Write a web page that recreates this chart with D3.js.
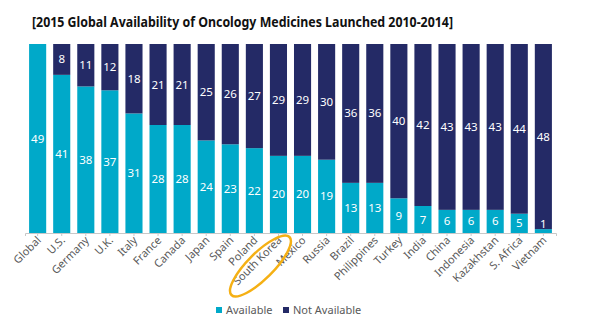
<!DOCTYPE html>
<html>
<head>
<meta charset="utf-8">
<script src="https://cdn.jsdelivr.net/npm/d3@7"></script>
<style>
  body { margin: 0; background: #fff; }
  svg { display: block; }
</style>
</head>
<body>
<div id="chart"></div>
<script>
// countries / markets
var laender = ["Global", "U.S.", "Germany", "U.K.", "Italy", "France", "Canada", "Japan", "Spain", "Poland",
  "South Korea", "Mexico", "Russia", "Brazil", "Philippines", "Turkey", "India", "China", "Indonesia",
  "Kazakhstan", "S. Africa", "Vietnam"];
var verfuegbar = [49, 41, 38, 37, 31, 28, 28, 24, 23, 22, 20, 20, 19, 13, 13, 9, 7, 6, 6, 6, 5, 1];
var nichtVerfuegbar = [0, 8, 11, 12, 18, 21, 21, 25, 26, 27, 29, 29, 30, 36, 36, 40, 42, 43, 43, 43, 44, 48];
var serien = ["Available", "Not Available"];

var width = 600, height = 327;
var farben = { "Available": "#00a9c9", "Not Available": "#242a66" };

var svg = d3.select("#chart").append("svg")
  .attr("width", width)
  .attr("height", height);

// title
svg.append("text")
  .attr("x", 32)
  .attr("y", 27)
  .attr("font-family", "Noto Sans, sans-serif")
  .attr("font-weight", "bold")
  .attr("font-size", 13.5)
  .attr("textLength", 421)
  .attr("lengthAdjust", "spacingAndGlyphs")
  .attr("fill", "#111")
  .text("[2015 Global Availability of Oncology Medicines Launched 2010-2014]");

var x = d3.scaleBand()
  .domain(laender)
  .range([25, 556])
  .paddingInner(0.29)
  .paddingOuter(0.17);

var y = d3.scaleLinear()
  .domain([0, 49])
  .range([233, 44]);

var daten = laender.map(function (l, i) {
  return { land: l, "Available": verfuegbar[i], "Not Available": nichtVerfuegbar[i] };
});
var stapel = d3.stack().keys(serien)(daten);

var gruppen = svg.selectAll("g.serie")
  .data(stapel)
  .enter().append("g")
  .attr("class", "serie")
  .attr("fill", function (d) { return farben[d.key]; });

gruppen.selectAll("rect")
  .data(function (d) { return d; })
  .enter().append("rect")
  .attr("x", function (d) { return x(d.data.land); })
  .attr("y", function (d) { return y(d[1]); })
  .attr("width", x.bandwidth())
  .attr("height", function (d) { return y(d[0]) - y(d[1]); });

// value labels
stapel.forEach(function (s) {
  svg.append("g").selectAll("text")
    .data(s.filter(function (d) { return d[1] - d[0] > 0; }))
    .enter().append("text")
    .attr("x", function (d) { return x(d.data.land) + x.bandwidth() / 2; })
    .attr("y", function (d) {
      var mitte = (y(d[0]) + y(d[1])) / 2;
      // tiny segment: put label just above it
      return Math.min(mitte, 224) + 4;
    })
    .attr("text-anchor", "middle")
    .attr("font-family", "Noto Sans, sans-serif")
    .attr("font-size", 11.5)
    .attr("fill", "#fff")
    .text(function (d) { return d[1] - d[0]; });
});

// x axis
var achse = svg.append("g")
  .attr("transform", "translate(0,233)")
  .call(d3.axisBottom(x).tickSize(3).tickFormat(""));
achse.select(".domain").attr("stroke", "#c8c8c8").attr("d", "M25.5,3V0.5H556.5V3");
achse.selectAll(".tick line").attr("stroke", "#c8c8c8");

svg.append("g").selectAll("text")
  .data(laender)
  .enter().append("text")
  .attr("transform", function (d) {
    return "translate(" + (x(d) + x.bandwidth() / 2 + 4) + ",241) rotate(-45)";
  })
  .attr("text-anchor", "end")
  .attr("font-family", "Noto Sans, sans-serif")
  .attr("font-size", 11)
  .attr("fill", "#595959")
  .text(function (d) { return d; });

// orange ring around South Korea
var sk = x("South Korea") + x.bandwidth() / 2;
svg.append("ellipse")
  .attr("transform", "translate(" + (sk - 18) + ",266) rotate(-45)")
  .attr("rx", 41)
  .attr("ry", 13)
  .attr("fill", "none")
  .attr("stroke", "#f5b014")
  .attr("stroke-width", 2.5);

// legend
var legPos = [216, 283];
var legende = svg.append("g").selectAll("g")
  .data(serien)
  .enter().append("g")
  .attr("transform", function (d, i) { return "translate(" + legPos[i] + ",307)"; });
legende.append("rect")
  .attr("width", 6)
  .attr("height", 6)
  .attr("fill", function (d) { return farben[d]; });
legende.append("text")
  .attr("x", 10)
  .attr("y", 7)
  .attr("font-family", "Noto Sans, sans-serif")
  .attr("font-size", 11)
  .attr("fill", "#595959")
  .text(function (d) { return d; });
</script>
</body>
</html>
